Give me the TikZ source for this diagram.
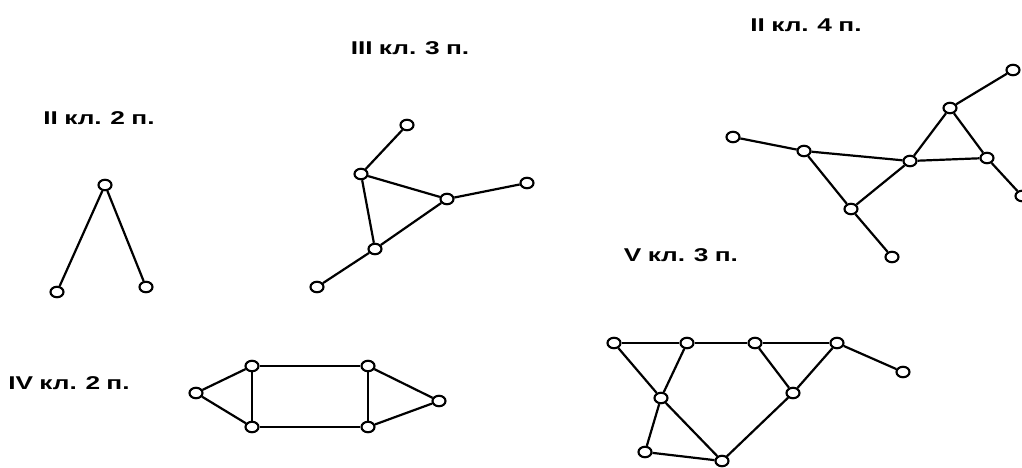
\documentclass[tikz,border=0pt]{standalone}
\usepackage{fontspec}
\setmainfont{Liberation Sans}
\usepackage{graphicx}
\usepackage{tikz}
\usetikzlibrary{shapes.geometric}
\tikzset{
  vtx/.style ={ellipse, draw=black, line width=2.1pt, fill=white,
               minimum width=13pt, minimum height=10.5pt, inner sep=0pt},
  edg/.style ={draw=black, line width=2.2pt},
  lbl/.style ={font=\fontsize{18.5}{21}\selectfont\bfseries, inner sep=0pt},
}
\newcommand{\wide}[1]{\scalebox{1.42}[1]{\spaceskip=0.24em\relax #1}}

\begin{document}
\begin{tikzpicture}[x=1pt,y=-1pt]
  \useasboundingbox (0,0) rectangle (1022,468);

  % ---------------------------------------------------------------- II kl. 2 p.
  \node[lbl] (t1) at (99,118) {\wide{II кл. 2 п.}};
  \node[vtx] (a1) at (105,185) {};
  \node[vtx] (a2) at (57,292)  {};
  \node[vtx] (a3) at (146,287) {};
  \draw[edg] (a1) -- (a2);
  \draw[edg] (a1) -- (a3);

  % ---------------------------------------------------------------- III kl. 3 p.
  \node[lbl] (t2) at (410,48) {\wide{III кл. 3 п.}};
  \node[vtx] (b1) at (407,125) {};
  \node[vtx] (b2) at (361,174) {};
  \node[vtx] (b3) at (447,199) {};
  \node[vtx] (b4) at (527,183) {};
  \node[vtx] (b5) at (375,249) {};
  \node[vtx] (b6) at (317,287) {};
  \draw[edg] (b1) -- (b2);
  \draw[edg] (b2) -- (b3);
  \draw[edg] (b2) -- (b5);
  \draw[edg] (b3) -- (b5);
  \draw[edg] (b3) -- (b4);
  \draw[edg] (b5) -- (b6);

  % ---------------------------------------------------------------- II kl. 4 p.
  \node[lbl] (t3) at (806,25) {\wide{II кл. 4 п.}};
  \node[vtx] (c1)  at (733,137)  {};
  \node[vtx] (c2)  at (804,151)  {};
  \node[vtx] (c3)  at (910,161)  {};
  \node[vtx] (c4)  at (950,108)  {};
  \node[vtx] (c5)  at (1013,70)  {};
  \node[vtx] (c6)  at (987,158)  {};
  \node[vtx] (c7)  at (1022,196) {};
  \node[vtx] (c8)  at (851,209)  {};
  \node[vtx] (c9)  at (892,257)  {};
  \draw[edg] (c1) -- (c2);
  \draw[edg] (c2) -- (c3);
  \draw[edg] (c2) -- (c8);
  \draw[edg] (c8) -- (c3);
  \draw[edg] (c8) -- (c9);
  \draw[edg] (c3) -- (c4);
  \draw[edg] (c3) -- (c6);
  \draw[edg] (c4) -- (c6);
  \draw[edg] (c4) -- (c5);
  \draw[edg] (c6) -- (c7);

  % ---------------------------------------------------------------- IV kl. 2 p.
  \node[lbl] (t4) at (69,383) {\wide{IV кл. 2 п.}};
  \node[vtx] (d1) at (196,393) {};
  \node[vtx] (d2) at (252,366) {};
  \node[vtx] (d3) at (252,427) {};
  \node[vtx] (d4) at (368,366) {};
  \node[vtx] (d5) at (368,427) {};
  \node[vtx] (d6) at (439,401) {};
  \draw[edg] (d1) -- (d2);
  \draw[edg] (d1) -- (d3);
  \draw[edg] (d2) -- (d3);
  \draw[edg] (d2) -- (d4);
  \draw[edg] (d3) -- (d5);
  \draw[edg] (d4) -- (d5);
  \draw[edg] (d4) -- (d6);
  \draw[edg] (d5) -- (d6);

  % ---------------------------------------------------------------- V kl. 3 p.
  \node[lbl] (t5) at (681,255) {\wide{V кл. 3 п.}};
  \node[vtx] (e1) at (614,343) {};
  \node[vtx] (e2) at (687,343) {};
  \node[vtx] (e3) at (755,343) {};
  \node[vtx] (e4) at (837,343) {};
  \node[vtx] (e5) at (903,372) {};
  \node[vtx] (e6) at (661,398) {};
  \node[vtx] (e7) at (793,393) {};
  \node[vtx] (e8) at (645,452) {};
  \node[vtx] (e9) at (722,461) {};
  \draw[edg] (e1) -- (e2);
  \draw[edg] (e2) -- (e3);
  \draw[edg] (e3) -- (e4);
  \draw[edg] (e4) -- (e5);
  \draw[edg] (e1) -- (e6);
  \draw[edg] (e2) -- (e6);
  \draw[edg] (e3) -- (e7);
  \draw[edg] (e4) -- (e7);
  \draw[edg] (e6) -- (e8);
  \draw[edg] (e6) -- (e9);
  \draw[edg] (e8) -- (e9);
  \draw[edg] (e7) -- (e9);
\end{tikzpicture}
\end{document}
